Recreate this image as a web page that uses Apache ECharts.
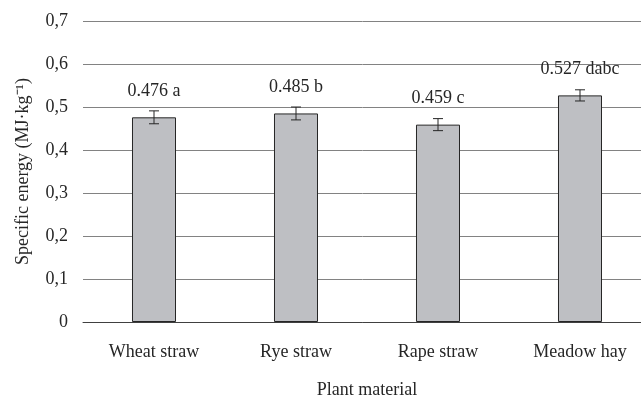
<!DOCTYPE html>
<html>
<head>
<meta charset="utf-8">
<script src="https://cdn.jsdelivr.net/npm/echarts@6/dist/echarts.min.js"></script>
<style>
html,body{margin:0;padding:0;background:#fff;}
#main{width:641px;height:400px;}
</style>
</head>
<body>
<div id="main"></div>
<script>
var categories = ['Wheat straw', 'Rye straw', 'Rape straw', 'Meadow hay'];
var values = [0.476, 0.485, 0.459, 0.527];
var errors = [0.015, 0.015, 0.014, 0.013];
var letters = ['a', 'b', 'c', 'dabc'];
var yTicks = ['0', '0,1', '0,2', '0,3', '0,4', '0,5', '0,6', '0,7'];

var FONT = 'Liberation Serif';
var chart = echarts.init(document.getElementById('main'), null, {renderer: 'canvas'});

var errData = values.map(function (v, i) { return [i, v - errors[i], v + errors[i]]; });

chart.setOption({
  animation: false,
  backgroundColor: '#fff',
  grid: {left: 83, right: -10, top: 21, bottom: 78, outerBoundsMode: 'none', containLabel: false},
  xAxis: {
    type: 'category',
    data: categories,
    name: 'Plant material',
    nameLocation: 'middle',
    nameGap: 59,
    nameTextStyle: {fontFamily: FONT, fontSize: 18, color: '#262626'},
    axisLine: {show: true, lineStyle: {color: '#404040', width: 1}},
    axisTick: {show: false},
    axisLabel: {fontFamily: FONT, fontSize: 18, color: '#262626', margin: 21}
  },
  yAxis: {
    type: 'value',
    min: 0,
    max: 0.7,
    interval: 0.1,
    name: 'Specific energy (MJ·kg⁻¹)',
    nameLocation: 'middle',
    nameGap: 51,
    nameRotate: 90,
    nameTextStyle: {fontFamily: FONT, fontSize: 18, color: '#262626'},
    axisLine: {show: false},
    axisTick: {show: false},
    splitLine: {lineStyle: {color: '#828282', width: 1}},
    axisLabel: {
      fontFamily: FONT, fontSize: 18, color: '#262626', margin: 15,
      formatter: function (v) { return yTicks[Math.round(v * 10)]; }
    }
  },
  series: [
    {
      type: 'bar',
      data: values,
      barWidth: '31%',
      itemStyle: {color: '#bebfc3', borderColor: '#262626', borderWidth: 1},
      label: {
        show: true,
        position: 'top',
        distance: 17,
        fontFamily: FONT,
        fontSize: 18,
        color: '#262626',
        formatter: function (p) { return values[p.dataIndex].toFixed(3) + ' ' + letters[p.dataIndex]; }
      },
      z: 2
    },
    {
      type: 'custom',
      data: errData,
      z: 5,
      renderItem: function (params, api) {
        var x = api.value(0);
        var lo = api.coord([x, api.value(1)]);
        var hi = api.coord([x, api.value(2)]);
        var hw = 5;
        var style = {stroke: '#262626', lineWidth: 1, fill: null};
        return {
          type: 'group',
          children: [
            {type: 'line', shape: {x1: lo[0], y1: lo[1], x2: hi[0], y2: hi[1]}, style: style},
            {type: 'line', shape: {x1: lo[0] - hw, y1: lo[1], x2: lo[0] + hw, y2: lo[1]}, style: style},
            {type: 'line', shape: {x1: hi[0] - hw, y1: hi[1], x2: hi[0] + hw, y2: hi[1]}, style: style}
          ]
        };
      }
    }
  ]
});
</script>
</body>
</html>
